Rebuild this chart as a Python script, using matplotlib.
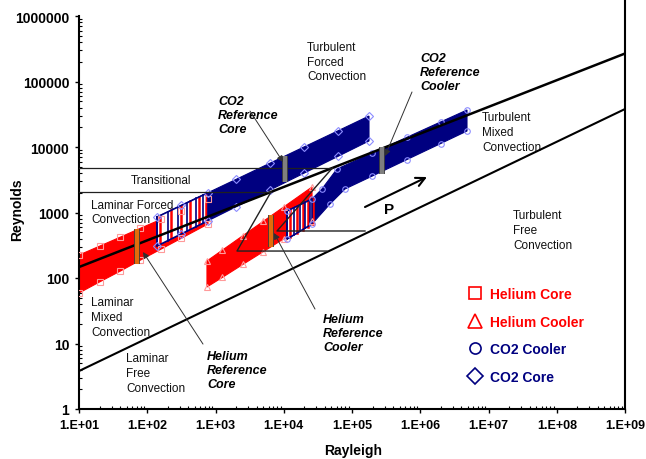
import numpy as np
import matplotlib
matplotlib.use('Agg')
import matplotlib.pyplot as plt
import matplotlib.patheffects as pe
from matplotlib.lines import Line2D
from matplotlib.ticker import FixedLocator, FuncFormatter, LogLocator, NullFormatter

plt.rcParams['font.family'] = ['Liberation Sans', 'DejaVu Sans']

RED = '#ff0000'
NAVY = '#000080'
ORANGE = '#e36c0a'
GREY = '#7f7f7f'

# operating envelopes (upper / lower Reynolds edge of each band)
he_core_ra = [10, 20, 40, 79, 158, 316, 776]
he_core_re_hi = [224, 306, 419, 573, 783, 1069, 1607]
he_core_re_lo = [59, 87, 127, 187, 275, 404, 667]

he_cool_ra = [750, 1259, 2512, 5012, 10000, 25940]
he_cool_re_hi = [182, 266, 442, 733, 1216, 2449]
he_cool_re_lo = [73, 102, 161, 252, 397, 741]

co2_core_ra = [139, 316, 776, 1995, 6310, 19950, 63100, 177400]
co2_core_re_hi = [853, 1282, 2004, 3199, 5675, 10050, 17780, 29720]
co2_core_re_lo = [308, 471, 748, 1219, 2208, 4000, 7244, 12360]

co2_cool_ra_hi = [11170, 25940, 36310, 60260, 199500, 631000, 1995000, 4840000]
co2_cool_re_hi = [1054, 1607, 2286, 4613, 8128, 14000, 24150, 36730]
co2_cool_ra_lo = [11170, 25940, 47530, 78890, 199500, 631000, 1995000, 4840000]
co2_cool_re_lo = [394, 667, 1349, 2286, 3614, 6397, 11300, 17540]

# low-Ra part of the CO2 runs, drawn as open strips
co2_core_strip_ra = [139, 201, 282, 382, 518, 656]
co2_core_strip_end = 776
co2_cool_strip_ra = [11170, 14130, 17300, 20480, 24260]
co2_cool_strip_end = 25940

# reference design points: Ra, Re low, Re high
ref_ra = [70.8, 6500, 10420, 275400]
ref_re_lo = [164, 297, 2924, 3873]
ref_re_hi = [560, 916, 7290, 10000]
ref_colors = [ORANGE, ORANGE, GREY, GREY]

# regime boundaries
forced_ra = [1e1, 1e9]
forced_re = [147, 267500]
free_ra = [1e1, 1e9]
free_re = [3.8, 38000]
trans_re = [2056, 4780]
trans_ra_end = [6500, 51600]
mixed_trans_ra = [[6500, 2065, 43000], [51600, 7960, 155000]]
mixed_trans_re = [[2056, 258, 258], [4780, 522, 522]]

fig = plt.figure(figsize=(6.46, 4.60), dpi=100)
ax = fig.add_axes([79 / 646, 50 / 460, 546 / 646, 393 / 460])
ax.set_xscale('log')
ax.set_yscale('log')
ax.set_xlim(1e1, 1e9)
ax.set_ylim(1, 1e6)


def band(ra_hi, re_hi, ra_lo, re_lo, color, z):
    xs = list(ra_hi) + list(ra_lo)[::-1]
    ys = list(re_hi) + list(re_lo)[::-1]
    ax.fill(xs, ys, color=color, ec=color, lw=0.8, zorder=z)


def edge(ra, xs, ys):
    return 10 ** np.interp(np.log10(ra), np.log10(xs), np.log10(ys))


def strip(ra_hi, re_hi, ra_lo, re_lo, ra_end, line_ra, z):
    hx = [r for r in ra_hi if r <= ra_end]
    hy = list(re_hi[:len(hx)])
    lx = [r for r in ra_lo if r <= ra_end]
    ly = list(re_lo[:len(lx)])
    xs = hx + lx[::-1] + [hx[0]]
    ys = hy + ly[::-1] + [hy[0]]
    ax.fill(xs, ys, color='white', lw=0, zorder=z)
    for r in line_ra:
        ax.plot([r, r], [edge(r, lx, ly), edge(r, hx, hy)], color=NAVY, lw=1.2, zorder=z + 0.1)
        r2 = r * 1.1
        ax.plot([r2, r2], [edge(r2, lx, ly), edge(r2, hx, hy)], color=RED, lw=1.8, zorder=z + 0.1)
    ax.plot(xs, ys, color=NAVY, lw=1.2, zorder=z + 0.2)


band(he_core_ra, he_core_re_hi, he_core_ra, he_core_re_lo, RED, 2)
band(co2_core_ra, co2_core_re_hi, co2_core_ra, co2_core_re_lo, NAVY, 2.1)
band(he_cool_ra, he_cool_re_hi, he_cool_ra, he_cool_re_lo, RED, 2.2)
band(co2_cool_ra_hi, co2_cool_re_hi, co2_cool_ra_lo, co2_cool_re_lo, NAVY, 2.3)
strip(co2_core_ra, co2_core_re_hi, co2_core_ra, co2_core_re_lo,
      co2_core_strip_end, co2_core_strip_ra, 2.5)
strip(co2_cool_ra_hi, co2_cool_re_hi, co2_cool_ra_lo, co2_cool_re_lo,
      co2_cool_strip_end, co2_cool_strip_ra, 2.5)

# hollow markers along the band edges
mk = dict(ls='none', mfc='none', ms=4, mew=0.8, zorder=3)
ax.plot(he_core_ra, he_core_re_hi, marker='s', mec='#ff9a9a', **mk)
ax.plot(he_core_ra, he_core_re_lo, marker='s', mec='#ff9a9a', **mk)
ax.plot(he_cool_ra, he_cool_re_hi, marker='^', mec='#ff9a9a', **mk)
ax.plot(he_cool_ra, he_cool_re_lo, marker='^', mec='#ff9a9a', **mk)
ax.plot(co2_core_ra, co2_core_re_hi, marker='D', mec='#8c8cff', **mk)
ax.plot(co2_core_ra, co2_core_re_lo, marker='D', mec='#8c8cff', **mk)
ax.plot(co2_cool_ra_hi, co2_cool_re_hi, marker='o', mec='#8c8cff', **mk)
ax.plot(co2_cool_ra_lo, co2_cool_re_lo, marker='o', mec='#8c8cff', **mk)

# regime boundaries
ax.plot(forced_ra, forced_re, color='black', lw=1.8, zorder=4)
ax.plot(free_ra, free_re, color='black', lw=1.5, zorder=4)
for re, ra_end in zip(trans_re, trans_ra_end):
    ax.plot([1e1, ra_end], [re, re], color='#202020', lw=0.9, zorder=4)
for xs, ys in zip(mixed_trans_ra, mixed_trans_re):
    ax.plot(xs, ys, color='#202020', lw=1.0, zorder=4)

# reference design points
for ra, lo, hi, c in zip(ref_ra, ref_re_lo, ref_re_hi, ref_colors):
    ax.plot([ra, ra], [lo, hi], color=c, lw=3.0, solid_capstyle='butt', zorder=6,
            path_effects=[pe.Stroke(linewidth=4.2, foreground='#3a3a3a'), pe.Normal()])

arrow_kw = dict(arrowstyle='-|>', color='#303030', lw=0.7, mutation_scale=9,
                shrinkA=0, shrinkB=0)
leaders = [((656, 9.8), (86.7, 249)),
           ((28700, 33.6), (7190, 486)),
           ((3200, 35400), (9750, 5900)),
           ((757000, 69150), (304800, 7290))]
for start, end in leaders:
    ax.annotate('', xy=end, xytext=start, arrowprops=arrow_kw, zorder=7)

# pressure direction
ax.annotate('', xy=(1.256e6, 3483), xytext=(155000, 1213),
            arrowprops=dict(arrowstyle='->', color='black', lw=1.5,
                            mutation_scale=16, shrinkA=0, shrinkB=0))
ax.text(348000, 1130, 'P', fontsize=11, fontweight='bold', ha='center', va='center')

# regime labels
reg = dict(fontsize=8.5, ha='left', va='center', linespacing=1.3, color='#111111')
ax.text(21900, 201900, 'Turbulent\nForced\nConvection', **reg)
ax.text(8.03e6, 16940, 'Turbulent\nMixed\nConvection', **reg)
ax.text(2.29e7, 541, 'Turbulent\nFree\nConvection', **reg)
ax.text(159, 3133, 'Transitional', fontsize=8.5, ha='center', va='center', color='#111111')
ax.text(15, 1018, 'Laminar Forced\nConvection', **reg)
ax.text(15, 25.4, 'Laminar\nMixed\nConvection', **reg)
ax.text(48.9, 3.55, 'Laminar\nFree\nConvection', **reg)

ann = dict(fontsize=9, fontweight='bold', fontstyle='italic', ha='left', va='center',
           linespacing=1.25)
ax.text(750, 3.94, 'Helium\nReference\nCore', **ann)
ax.text(37600, 14.5, 'Helium\nReference\nCooler', **ann)
ax.text(1089, 30800, 'CO2\nReference\nCore', **ann)
ax.text(991000, 139600, 'CO2\nReference\nCooler', **ann)

# legend
handles = [Line2D([], [], ls='none', marker='s', ms=9, mfc='none', mec=RED, mew=1.2),
           Line2D([], [], ls='none', marker='^', ms=10, mfc='none', mec=RED, mew=1.2),
           Line2D([], [], ls='none', marker='o', ms=8, mfc='none', mec=NAVY, mew=1.2),
           Line2D([], [], ls='none', marker='D', ms=8, mfc='none', mec=NAVY, mew=1.2)]
labels = ['Helium Core', 'Helium Cooler', 'CO2 Cooler', 'CO2 Core']
leg = ax.legend(handles, labels, loc='upper left', bbox_to_anchor=(0.69, 0.342),
                frameon=False, handlelength=1.0, handletextpad=0.6, labelspacing=0.97,
                prop=dict(size=10, weight='bold'),
                labelcolor=[RED, RED, NAVY, NAVY])

# axes and ticks
ax.xaxis.set_major_locator(FixedLocator([10.0 ** k for k in range(1, 10)]))
ax.xaxis.set_major_formatter(FuncFormatter(lambda v, _: '1.E+%02d' % round(np.log10(v))))
ax.yaxis.set_major_locator(FixedLocator([10.0 ** k for k in range(0, 7)]))
ax.yaxis.set_major_formatter(FuncFormatter(lambda v, _: '%d' % round(v)))
ax.xaxis.set_minor_locator(LogLocator(base=10, subs=np.arange(2, 10)))
ax.yaxis.set_minor_locator(LogLocator(base=10, subs=np.arange(2, 10)))
ax.xaxis.set_minor_formatter(NullFormatter())
ax.yaxis.set_minor_formatter(NullFormatter())
ax.tick_params(which='major', direction='out', length=3, width=1, pad=4)
ax.tick_params(axis='y', which='major', labelsize=10)
ax.tick_params(axis='x', which='major', labelsize=9)
ax.tick_params(which='minor', direction='in', length=2.5, width=0.8)
for lab in ax.get_xticklabels() + ax.get_yticklabels():
    lab.set_fontweight('bold')

ax.spines['top'].set_visible(False)
ax.spines['right'].set_visible(False)
for s in ['left', 'bottom']:
    ax.spines[s].set_linewidth(1.5)

ax.set_xlabel('Rayleigh', fontsize=10, fontweight='bold')
ax.set_ylabel('Reynolds', fontsize=10, fontweight='bold')
ax.xaxis.set_label_coords(0.502, -0.087)
ax.yaxis.set_label_coords(-0.10, 0.509)

# right-hand frame line, from the top of the figure down to the Rayleigh axis
fig.add_artist(Line2D([625 / 646, 625 / 646], [50 / 460, 1], color='black', lw=1.5,
                      transform=fig.transFigure))

fig.savefig('out.png', dpi=100)
